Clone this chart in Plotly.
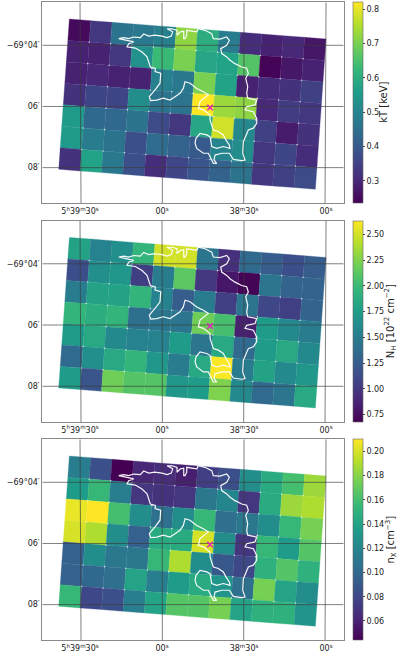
import numpy as np
import plotly.graph_objects as go
from plotly.colors import sample_colorscale

W, H = 397, 657

# Right ascension in seconds east of 5h38m00s, declination in arcmin relative to -69 deg
ra_ticks = [90, 60, 30, 0]
ra_labels = ["5<sup>h</sup>39<sup>m</sup>30<sup>s</sup>", "00<sup>s</sup>", "38<sup>m</sup>30<sup>s</sup>", "00<sup>s</sup>"]
dec_ticks = [-4, -6, -8]
dec_labels = ["−69°04′", "06′", "08′"]

kT = [
    [.25, .33, .46, .47, .49, .72, .60, .48, .31, .29, .30, .27],
    [.29, .29, .33, .53, .63, .70, .58, .57, .66, .24, .27, .29],
    [.29, .30, .29, .29, .49, .47, .70, .57, .29, .31, .32, .35],
    [.32, .36, .36, .52, .46, .46, .82, .73, .72, .30, .34, .33],
    [.55, .43, .43, .46, .37, .33, .58, .78, .51, .35, .28, .32],
    [.55, .48, .46, .38, .44, .42, .40, .50, .52, .33, .36, .31],
    [.32, .57, .47, .38, .31, .36, .39, .42, .46, .33, .35, .37],
]
NH = [
    [1.80, 1.55, 1.65, 1.95, 2.50, 2.50, 1.45, 0.95, 1.35, 1.25, 1.15, 1.25],
    [1.15, 1.65, 1.70, 1.05, 1.50, 2.12, 1.00, 0.80, 0.70, 1.45, 1.30, 1.30],
    [1.50, 1.80, 1.80, 1.95, 1.55, 1.25, 1.50, 1.05, 1.45, 1.10, 1.05, 1.30],
    [1.95, 1.90, 1.95, 1.40, 1.45, 1.45, 2.20, 2.05, 0.85, 1.75, 1.60, 1.50],
    [1.75, 1.85, 1.60, 1.55, 1.55, 1.75, 1.45, 1.85, 1.35, 1.75, 1.85, 1.60],
    [1.35, 1.65, 1.85, 1.95, 1.70, 1.50, 1.85, 2.62, 1.50, 1.80, 1.60, 1.70],
    [1.75, 1.20, 2.20, 2.10, 2.10, 1.70, 1.75, 2.25, 1.60, 1.35, 1.45, 1.85],
]
nX = [
    [.115, .085, .044, .062, .065, .058, .075, .085, .125, .145, .160, .185],
    [.135, .155, .115, .070, .068, .070, .110, .120, .070, .145, .185, .190],
    [.205, .210, .160, .125, .105, .125, .155, .105, .110, .125, .155, .175],
    [.200, .190, .125, .095, .145, .145, .200, .125, .070, .155, .135, .165],
    [.095, .125, .110, .110, .155, .190, .125, .090, .080, .150, .165, .150],
    [.095, .100, .105, .140, .115, .135, .145, .130, .105, .175, .140, .125],
    [.155, .080, .085, .115, .140, .165, .165, .175, .140, .150, .150, .130],
]
cbar_titles = ["kT [keV]", "N<sub>H</sub> [10<sup>22</sup> cm<sup>−2</sup>]", "n<sub>X</sub> [cm<sup>−3</sup>]"]
cbar_title_x = [384, 390.8, 390.8]
cbar_ranges = [(0.235, 0.82), (0.68, 2.63), (0.044, 0.21)]
cbar_ticks = [
    [.3, .4, .5, .6, .7, .8],
    [.75, 1, 1.25, 1.5, 1.75, 2, 2.25, 2.5],
    [.06, .08, .10, .12, .14, .16, .18, .20],
]
cbar_fmt = [".1f", ".2f", ".2f"]

contour_ra = [75.84, 74.01, 72.19, 70.36, 67.94, 66.70, 64.87, 62.67, 60.00, 58.17, 56.60, 56.09, 58.17, 56.34, 54.51,
              54.51, 53.31, 52.06, 52.06, 51.59, 50.96, 50.96, 47.31, 46.72, 44.27, 41.82, 41.23, 38.78, 36.33, 35.38,
              36.33, 38.53, 38.16, 36.33, 35.13, 33.30, 30.85, 29.02, 28.43, 29.38, 28.65, 29.02, 28.65, 25.36, 25.98,
              29.02, 29.64, 26.60, 25.36, 25.36, 26.60, 28.43, 30.25, 30.48, 29.64, 30.85, 33.92, 35.38, 38.16, 40.61,
              40.98, 39.99, 41.23, 43.06, 44.89, 47.31, 47.93, 47.56, 46.10, 43.65, 42.44, 41.82, 39.99, 37.58, 35.13,
              35.38, 36.59, 37.58, 39.40, 41.23, 42.44, 42.44, 44.89, 46.72, 46.10, 43.06, 44.89, 47.31, 49.76, 51.59,
              52.21, 53.42, 55.25, 57.08, 59.53, 61.94, 64.14, 64.65, 62.56, 60.73, 60.48, 62.56, 62.45, 64.28, 65.49,
              67.32, 69.77, 72.81, 72.19, 70.36, 72.81, 75.84]
contour_dec = [-3.78, -3.75, -3.78, -3.73, -3.75, -3.63, -3.70, -3.67, -3.70, -3.75, -3.70, -3.56, -3.46, -3.46, -3.51,
               -3.67, -3.56, -3.54, -3.78, -3.78, -3.67, -3.51, -3.56, -3.46, -3.51, -3.62, -3.78, -3.80, -3.73, -3.84,
               -4.00, -4.11, -4.27, -4.38, -4.49, -4.60, -4.71, -4.75, -4.92, -5.08, -5.35, -5.57, -5.73, -5.79, -5.95,
               -6.01, -6.11, -6.17, -6.39, -6.55, -6.71, -6.77, -7.15, -7.53, -7.75, -7.77, -7.73, -7.53, -7.53, -7.59,
               -7.75, -7.86, -7.86, -7.53, -7.53, -7.37, -7.20, -7.04, -6.88, -6.93, -6.99, -7.31, -7.37, -7.31, -7.37,
               -7.26, -7.10, -6.93, -6.82, -6.77, -6.44, -6.28, -6.11, -6.06, -5.84, -5.62, -5.52, -5.41, -5.24, -5.19,
               -5.41, -5.57, -5.68, -5.79, -5.73, -5.79, -5.81, -5.68, -5.46, -5.24, -4.91, -4.86, -4.76, -4.71, -4.38,
               -4.22, -4.09, -4.05, -3.95, -3.89, -3.84, -3.78]
source_ra = [42.44]
source_dec = [-6.03]

# Region grid geometry (sky coordinates)
grid_origin = (93.9, -3.139)
col_step = (-7.825, -0.0545)
row_step = (0.557, -0.702)
xrange_ = [103.8, -6.46]
yrange_ = [-9.166, -2.594]
tops = [2.3, 220.7, 439.3]
bots = [203.3, 422.0, 640.3]
LEFT, RIGHT = 42.3, 343.7
CB_X = 353.3
TICK_FONT = dict(size=8, color="#222", family="DejaVu Sans")


def corner(r, c):
    return (grid_origin[0] + c * col_step[0] + r * row_step[0],
            grid_origin[1] + c * col_step[1] + r * row_step[1])


fig = go.Figure()
panels = [kT, NH, nX]
layout = {}
annotations = []
for i, vals in enumerate(panels):
    ax = "" if i == 0 else str(i + 1)
    xa, ya = "x" + ax, "y" + ax
    vmin, vmax = cbar_ranges[i]
    arr = np.array(vals, float)
    nr, nc = arr.shape

    # point trace at the cell centres that carries the colour scale
    cx = [corner(r + .5, c + .5)[0] for r in range(nr) for c in range(nc)]
    cy = [corner(r + .5, c + .5)[1] for r in range(nr) for c in range(nc)]
    fig.add_trace(go.Scatter(
        x=cx, y=cy, mode="markers", xaxis=xa, yaxis=ya, showlegend=False, hoverinfo="skip",
        marker=dict(size=1, color=arr.ravel().tolist(), colorscale="Viridis", cmin=vmin, cmax=vmax,
                    showscale=True,
                    colorbar=dict(
                        x=CB_X / W, xanchor="left", thickness=10, thicknessmode="pixels",
                        y=1 - (tops[i] + bots[i]) / 2 / H, yanchor="middle",
                        lenmode="pixels", len=bots[i] - tops[i],
                        tickvals=cbar_ticks[i], tickformat=cbar_fmt[i],
                        ticks="outside", ticklen=2, tickwidth=0.6, tickcolor="#444",
                        tickfont=TICK_FONT,
                        outlinewidth=0.6, outlinecolor="#666", xpad=0, ypad=0,
                    ))))
    annotations.append(dict(
        text=cbar_titles[i], xref="paper", yref="paper", x=cbar_title_x[i] / W,
        y=1 - (tops[i] + bots[i]) / 2 / H, xanchor="center", yanchor="middle", textangle=-90,
        showarrow=False, font=dict(size=10, color="#222", family="DejaVu Sans")))

    # cells
    for r in range(nr):
        for c in range(nc):
            pts = [corner(r, c), corner(r, c + 1), corner(r + 1, c + 1), corner(r + 1, c), corner(r, c)]
            t = (arr[r, c] - vmin) / (vmax - vmin)
            col = sample_colorscale("Viridis", [min(max(t, 0), 1)])[0]
            fig.add_trace(go.Scatter(
                x=[p[0] for p in pts], y=[p[1] for p in pts], mode="lines", fill="toself",
                fillcolor=col, line=dict(width=0.3, color=col), xaxis=xa, yaxis=ya,
                showlegend=False, hoverinfo="skip"))

    # white corner dots
    dx = [corner(r, c)[0] for r in range(1, nr) for c in range(1, nc)]
    dy = [corner(r, c)[1] for r in range(1, nr) for c in range(1, nc)]
    fig.add_trace(go.Scatter(x=dx, y=dy, mode="markers", xaxis=xa, yaxis=ya, showlegend=False,
                             hoverinfo="skip", marker=dict(size=1.6, color="rgba(255,255,255,0.75)")))

    # sky grid
    for ra in ra_ticks:
        decs = np.array(yrange_)
        ras = ra + (ra - 45) * 0.00124 * (decs - yrange_[1])
        fig.add_trace(go.Scatter(x=ras.tolist(), y=decs.tolist(), mode="lines", xaxis=xa, yaxis=ya,
                                 line=dict(color="rgba(60,60,60,0.65)", width=1), showlegend=False,
                                 hoverinfo="skip"))
    for dec in dec_ticks:
        fig.add_trace(go.Scatter(x=xrange_, y=[dec, dec], mode="lines", xaxis=xa, yaxis=ya,
                                 line=dict(color="rgba(60,60,60,0.65)", width=1), showlegend=False,
                                 hoverinfo="skip"))

    # contour and source
    fig.add_trace(go.Scatter(x=contour_ra, y=contour_dec, mode="lines", xaxis=xa, yaxis=ya,
                             line=dict(color="rgba(255,255,255,0.95)", width=1.2), showlegend=False,
                             hoverinfo="skip"))
    fig.add_trace(go.Scatter(x=source_ra, y=source_dec, mode="markers", xaxis=xa, yaxis=ya,
                             marker=dict(symbol="x-thin", size=5.5, line=dict(color="#e01ec8", width=1.4)),
                             showlegend=False, hoverinfo="skip"))

    layout["xaxis" + ax] = dict(
        domain=[LEFT / W, RIGHT / W], range=xrange_, anchor=ya, showgrid=False, zeroline=False,
        tickvals=ra_ticks, ticktext=ra_labels, ticks="", showline=True, mirror=True,
        linecolor="#8a8a8a", linewidth=1, tickfont=TICK_FONT)
    layout["yaxis" + ax] = dict(
        domain=[1 - bots[i] / H, 1 - tops[i] / H], range=yrange_, anchor=xa, showgrid=False, zeroline=False,
        tickvals=dec_ticks, ticktext=dec_labels, ticks="", showline=True, mirror=True,
        linecolor="#8a8a8a", linewidth=1, tickfont=TICK_FONT)

fig.update_layout(width=W, height=H, margin=dict(l=0, r=0, t=0, b=0), autosize=False,
                  plot_bgcolor="white", paper_bgcolor="white", showlegend=False,
                  font=dict(family="DejaVu Sans"), annotations=annotations, **layout)
fig.write_html("out.html", config={"displayModeBar": False},
               post_script="document.body.style.margin='0';")
